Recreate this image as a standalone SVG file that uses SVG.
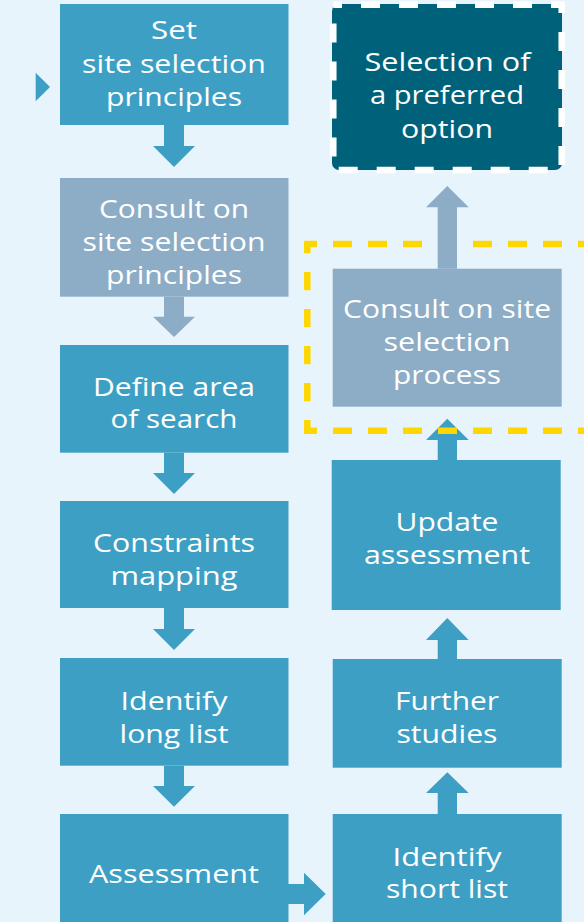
<svg xmlns="http://www.w3.org/2000/svg" width="584" height="922" viewBox="0 0 584 922">
<style>
.bg{fill:#E8F4FC}
.blue{fill:#3E9FC4}
.grey{fill:#8DADC6}
.dark{fill:#00627A}
.t{font-family:"Open Sans","Liberation Sans",sans-serif;font-size:25px;fill:#FFFFFF;text-anchor:middle}
.yl{stroke:#FFD700;stroke-width:6.5;fill:none}
</style>
<rect class="bg" x="0" y="0" width="584" height="922"/>

<g id="connectors">
  <polygon class="blue" points="35.7,72.7 50,87 35.7,101.3"/>
  <polygon class="blue" points="164,125 184,125 184,146 195,146 174,167 153,146 164,146"/>
  <polygon class="grey" points="164,296.7 184,296.7 184,316.7 195,316.7 174,337 153,316.7 164,316.7"/>
  <polygon class="blue" points="164,452.7 184,452.7 184,473 195,473 174,494 153,473 164,473"/>
  <polygon class="blue" points="164,608 184,608 184,629 195,629 174,650 153,629 164,629"/>
  <polygon class="blue" points="164,765.7 184,765.7 184,786 195,786 174,806.7 153,786 164,786"/>
  <polygon class="blue" points="288,884 304,884 304,872.7 325.7,894 304,915.3 304,904 288,904"/>
  <polygon class="blue" points="437.7,814 457,814 457,793 468.7,793 447.3,772.3 426,793 437.7,793"/>
  <polygon class="blue" points="437.7,659 457,659 457,640 468.7,640 447.3,618 426,640 437.7,640"/>
  <polygon class="blue" points="437.7,460 457,460 457,440 468.7,440 447.3,418.7 426,440 437.7,440"/>
</g>

<g id="highlight">
  <line class="yl" x1="304" y1="244" x2="590" y2="244" stroke-dasharray="19 16" stroke-dashoffset="6"/>
  <line class="yl" x1="307.3" y1="241" x2="307.3" y2="434" stroke-dasharray="18.3 18.7" stroke-dashoffset="6"/>
  <line class="yl" x1="304" y1="430.7" x2="590" y2="430.7" stroke-dasharray="19 16" stroke-dashoffset="6"/>
</g>

<g id="connectors-grey">
  <polygon class="grey" points="437.7,268.7 457,268.7 457,207.3 468.7,207.3 447.3,186 426,207.3 437.7,207.3"/>
</g>

<g id="node-set-principles">
  <rect class="blue" x="60" y="4" width="228.5" height="121"/>
  <text class="t" x="174" y="39.3" textLength="46" lengthAdjust="spacingAndGlyphs">Set</text>
  <text class="t" x="174" y="72.7" textLength="184" lengthAdjust="spacingAndGlyphs">site selection</text>
  <text class="t" x="174" y="106" textLength="136" lengthAdjust="spacingAndGlyphs">principles</text>
</g>

<g id="node-consult-principles">
  <rect class="grey" x="60" y="178" width="228.5" height="118.7"/>
  <text class="t" x="174" y="217.7" textLength="150" lengthAdjust="spacingAndGlyphs">Consult on</text>
  <text class="t" x="174" y="251" textLength="183" lengthAdjust="spacingAndGlyphs">site selection</text>
  <text class="t" x="174" y="284" textLength="136" lengthAdjust="spacingAndGlyphs">principles</text>
</g>

<g id="node-define-area">
  <rect class="blue" x="60" y="345" width="228.5" height="107.7"/>
  <text class="t" x="174" y="396" textLength="162" lengthAdjust="spacingAndGlyphs">Define area</text>
  <text class="t" x="174" y="428.3" textLength="127" lengthAdjust="spacingAndGlyphs">of search</text>
</g>

<g id="node-constraints">
  <rect class="blue" x="60" y="501" width="228.5" height="107"/>
  <text class="t" x="174" y="552.3" textLength="162" lengthAdjust="spacingAndGlyphs">Constraints</text>
  <text class="t" x="174" y="585" textLength="127" lengthAdjust="spacingAndGlyphs">mapping</text>
</g>

<g id="node-long-list">
  <rect class="blue" x="60" y="658" width="228.5" height="107.7"/>
  <text class="t" x="174" y="710" textLength="107" lengthAdjust="spacingAndGlyphs">Identify</text>
  <text class="t" x="174" y="742.7" textLength="109" lengthAdjust="spacingAndGlyphs">long list</text>
</g>

<g id="node-assessment">
  <rect class="blue" x="60" y="814" width="228.5" height="110"/>
  <text class="t" x="174" y="882.7" textLength="170" lengthAdjust="spacingAndGlyphs">Assessment</text>
</g>

<g id="node-preferred-option">
  <rect class="dark" x="332" y="4" width="230" height="166" rx="7"/>
  <rect x="333.3" y="4.7" width="228.4" height="165.3" fill="none" stroke="#FFFFFF" stroke-width="6.5" stroke-dasharray="19 19" stroke-dashoffset="10.3"/>
  <text class="t" x="447.5" y="71" textLength="166" lengthAdjust="spacingAndGlyphs">Selection of</text>
  <text class="t" x="447" y="104.3" textLength="154" lengthAdjust="spacingAndGlyphs">a preferred</text>
  <text class="t" x="447" y="137.6" textLength="92" lengthAdjust="spacingAndGlyphs">option</text>
</g>

<g id="node-consult-process">
  <rect class="grey" x="332.7" y="268.7" width="229" height="138"/>
  <text class="t" x="447" y="317.7" textLength="208" lengthAdjust="spacingAndGlyphs">Consult on site</text>
  <text class="t" x="447" y="351" textLength="127" lengthAdjust="spacingAndGlyphs">selection</text>
  <text class="t" x="447" y="384.3" textLength="108" lengthAdjust="spacingAndGlyphs">process</text>
</g>

<g id="node-update-assessment">
  <rect class="blue" x="331.7" y="460" width="229" height="150"/>
  <text class="t" x="447" y="531" textLength="103" lengthAdjust="spacingAndGlyphs">Update</text>
  <text class="t" x="447" y="564.3" textLength="166" lengthAdjust="spacingAndGlyphs">assessment</text>
</g>

<g id="node-further-studies">
  <rect class="blue" x="332.7" y="659" width="229" height="108.7"/>
  <text class="t" x="447" y="710" textLength="104" lengthAdjust="spacingAndGlyphs">Further</text>
  <text class="t" x="447" y="743.3" textLength="101" lengthAdjust="spacingAndGlyphs">studies</text>
</g>

<g id="node-short-list">
  <rect class="blue" x="332.7" y="814" width="229" height="110"/>
  <text class="t" x="447" y="866" textLength="109" lengthAdjust="spacingAndGlyphs">Identify</text>
  <text class="t" x="447" y="898.3" textLength="122" lengthAdjust="spacingAndGlyphs">short list</text>
</g>
</svg>
